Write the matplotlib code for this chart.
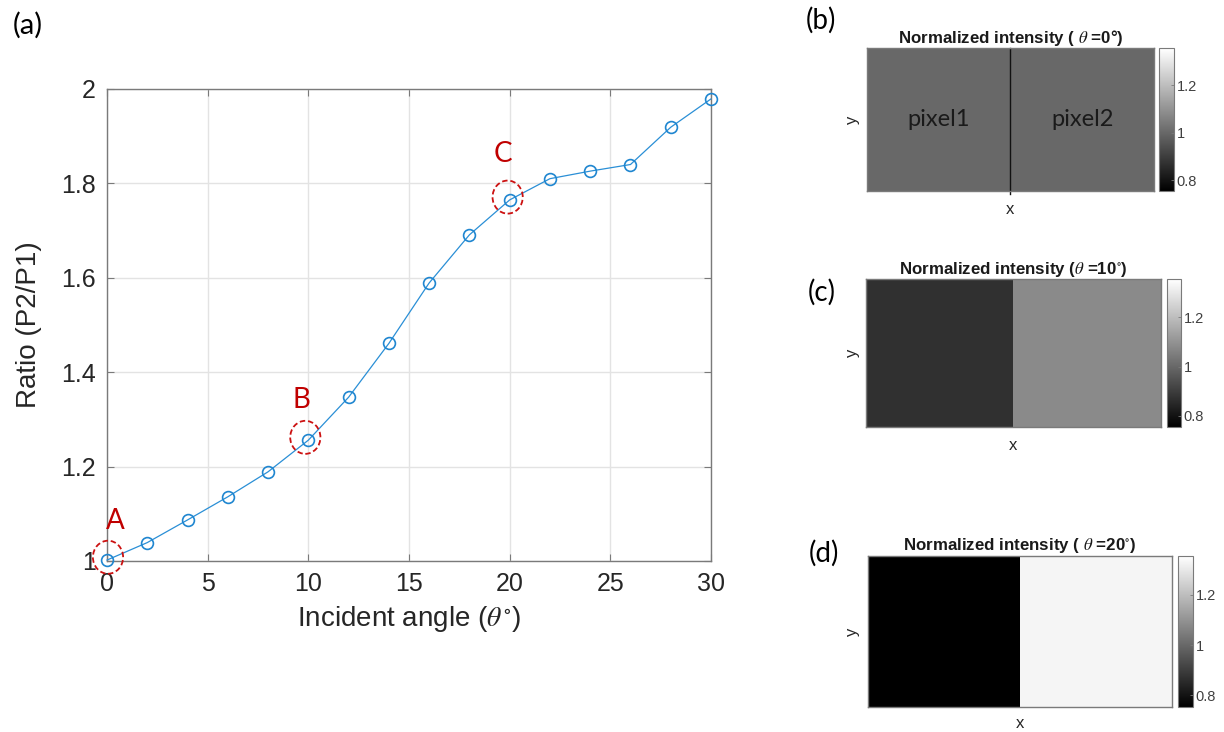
import numpy as np
import matplotlib
matplotlib.use("Agg")
import matplotlib.pyplot as plt
from matplotlib.patches import Ellipse

plt.rcParams['font.family'] = ['Liberation Sans', 'DejaVu Sans']
plt.rcParams['mathtext.fontset'] = 'stix'

# ratio of the two pixel powers vs incident angle
angles = [0, 2, 4, 6, 8, 10, 12, 14, 16, 18, 20, 22, 24, 26, 28, 30]
ratio = [1.002, 1.039, 1.087, 1.136, 1.189, 1.256, 1.347, 1.461, 1.589,
         1.691, 1.765, 1.810, 1.826, 1.840, 1.919, 1.979]

marked_labels = ['A', 'B', 'C']
marked_angles = [0, 10, 20]

# normalized intensity of pixel1 / pixel2 at 0, 10 and 20 degrees
panel_tags = ['(b)', '(c)', '(d)']
panel_titles = [r'Normalized intensity ( $\theta$ =0°)',
                r'Normalized intensity ($\theta$ =10$^{\circ}$)',
                r'Normalized intensity ( $\theta$ =20$^{\circ}$)']
intensity = [[1.0, 1.0], [0.87, 1.08], [0.75, 1.33]]
cbar_ticks = [0.8, 1, 1.2]
clim = (0.755, 1.355)

W, H = 1224, 732
fig = plt.figure(figsize=(W / 100, H / 100), dpi=100)


def px_rect(x0, y0, x1, y1):
    return [x0 / W, 1 - y1 / H, (x1 - x0) / W, (y1 - y0) / H]


edge = '#7a7a7a'
txt = '#262626'

# ---- (a) ratio curve ----
ax = fig.add_axes(px_rect(107, 89, 711, 561))
ax.plot(angles, ratio, color='#2a8fd6', lw=0.9, marker='o', ms=8.5,
        mfc='none', mec='#1f86d0', mew=1.2, clip_on=False, zorder=3)
ax.set_xlim(0, 30)
ax.set_ylim(1, 2)
ax.set_xticks([0, 5, 10, 15, 20, 25, 30])
ax.set_yticks([1, 1.2, 1.4, 1.6, 1.8, 2])
ax.set_yticklabels(['1', '1.2', '1.4', '1.6', '1.8', '2'])
ax.grid(True, color='#e3e3e3', lw=1)
ax.set_axisbelow(True)
ax.tick_params(direction='in', length=5, width=0.8, top=True, right=True,
               labelsize=18, colors=edge, labelcolor=txt, pad=8)
for s in ax.spines.values():
    s.set_color(edge)
    s.set_linewidth(1)
ax.set_xlabel(r'Incident angle ($\theta^{\circ}$)', fontsize=20, color=txt,
              labelpad=6)
ax.set_ylabel('Ratio (P2/P1)', fontsize=20, color=txt, labelpad=14)

# dashed marks around the three sampled angles
text_off = {'A': (6, 28), 'B': (-5, 29), 'C': (-5, 33)}
ring_dx = {'A': 0.05, 'B': -0.15, 'C': -0.1}
for lab, a in zip(marked_labels, marked_angles):
    r = ratio[angles.index(a)]
    ax.add_patch(Ellipse((a + ring_dx[lab], r + 0.006), 1.5, 0.07,
                         fill=False, ec='#cc1111', lw=1.3, ls=(0, (3, 1.6)),
                         clip_on=False, zorder=4))
    ax.annotate(lab, (a, r), xytext=text_off[lab], textcoords='offset points',
                ha='center', va='center', fontsize=20, color='#c00000',
                family='Lato')

fig.text(28 / W, 1 - 25 / H, '(a)', fontsize=21, family='Lato',
         ha='center', va='center')

# ---- (b)-(d) intensity maps ----
img_boxes = [(866.7, 48.3, 1154, 191), (866, 279.3, 1160.7, 426.7),
             (868, 556, 1171.7, 706.7)]
cbar_boxes = [(1159.3, 48.3, 1174, 191), (1166.7, 279.3, 1180.7, 426.7),
              (1178, 556, 1193, 706.7)]
tag_pos = [(821, 20), (822, 292), (824, 553)]
xlab_y = [210, 446, 723]

for i in range(3):
    x0, y0, x1, y1 = img_boxes[i]
    iax = fig.add_axes(px_rect(*img_boxes[i]))
    im = iax.imshow([intensity[i]], cmap='gray', vmin=clim[0], vmax=clim[1],
                    aspect='auto', interpolation='nearest')
    iax.set_xticks([])
    iax.set_yticks([])
    for s in iax.spines.values():
        s.set_color(edge)
        s.set_linewidth(1)
    iax.set_title(panel_titles[i], fontsize=12.2, fontweight='bold',
                  color='#1a1a1a', pad=4)
    fig.text((x0 + x1) / 2 / W, 1 - xlab_y[i] / H, 'x', fontsize=12,
             color=txt, ha='center', va='center')
    fig.text(852 / W, 1 - (y0 + y1) / 2 / H, 'y', fontsize=12, color=txt,
             ha='center', va='center', rotation=90)
    fig.text(tag_pos[i][0] / W, 1 - tag_pos[i][1] / H, panel_tags[i],
             fontsize=20, family='Lato', ha='center', va='center')

    cax = fig.add_axes(px_rect(*cbar_boxes[i]))
    cb = fig.colorbar(im, cax=cax, ticks=cbar_ticks)
    cb.ax.set_yticklabels(['0.8', '1', '1.2'])
    cb.outline.set_edgecolor(edge)
    cb.ax.tick_params(direction='in', length=2.5, width=0.6, labelsize=10.5,
                      colors=edge, labelcolor='#404040', pad=2)

    if i == 0:
        iax.plot([0.5, 0.5], [-0.5, 0.52], color='#111111', lw=1,
                 clip_on=False)
        iax.set_ylim(0.5, -0.5)
        iax.text(0, 0, 'pixel1', fontsize=17, family='Lato',
                 color='#1a1a1a', ha='center', va='center')
        iax.text(1, 0, 'pixel2', fontsize=17, family='Lato',
                 color='#1a1a1a', ha='center', va='center')

fig.savefig('out.png', dpi=100)
